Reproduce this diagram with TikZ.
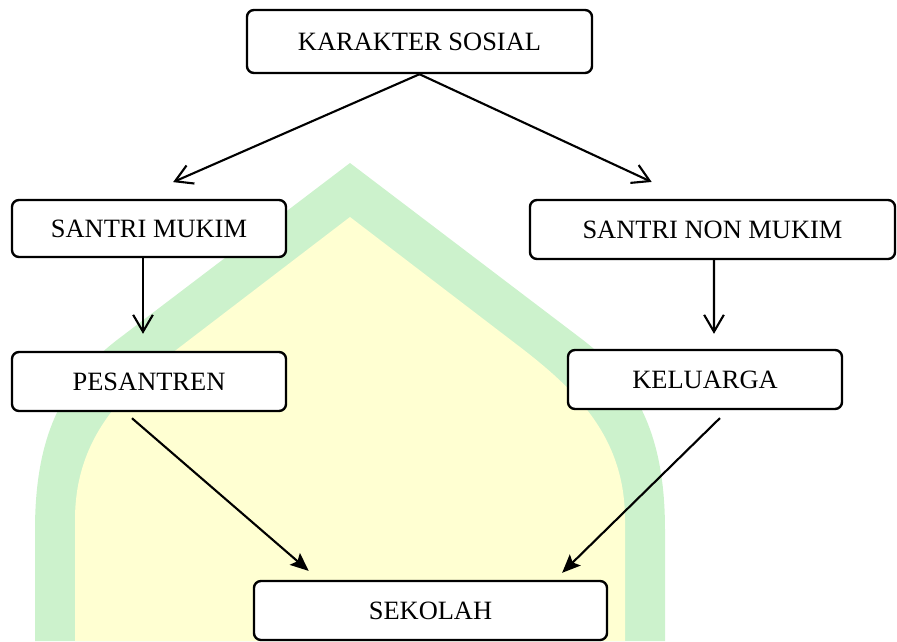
\documentclass[tikz,border=0pt]{standalone}
\usepackage{fontspec}
\setmainfont{Liberation Serif}
\usetikzlibrary{arrows.meta,calc}

\definecolor{wmgreen}{HTML}{CCF2CC}
\definecolor{wmyellow}{HTML}{FFFFD2}

\tikzset{
    box/.style={draw, line width=1.7pt, rounded corners=5pt, fill=white, inner sep=0pt,
        font=\fontsize{18.8}{22}\selectfont},
    openarrow/.style={-{Straight Barb[length=12pt,width=14pt]}, line width=1.5pt},
    solidarrow/.style={-{Stealth[length=13pt,width=11pt,inset=2.5pt]}, line width=1.5pt},
}

\begin{document}
\begin{tikzpicture}[x=0.025cm, y=-0.025cm]
        \useasboundingbox (0,0) rectangle (897,641);

        % watermark in the background
        \fill[wmgreen] (350,163) -- (583,340) .. controls (640,384) and (665,440) .. (665,530)
            -- (665,641) -- (35,641) -- (35,530) .. controls (35,440) and (60,384) .. (117,340) -- cycle;
        \fill[wmyellow] (350,217) -- (520,347) .. controls (580,393) and (625,440) .. (625,520)
            -- (625,641) -- (75,641) -- (75,520) .. controls (75,440) and (120,393) .. (180,347) -- cycle;

        \node[box, minimum width=8.625cm, minimum height=1.575cm] (karakter) at (419.5,41.5) {KARAKTER SOSIAL};
        \node[box, minimum width=6.85cm, minimum height=1.425cm] (mukim) at (149,228.5) {SANTRI MUKIM};
        \node[box, minimum width=9.125cm, minimum height=1.475cm] (nonmukim) at (712.5,229.5) {SANTRI NON MUKIM};
        \node[box, minimum width=6.85cm, minimum height=1.475cm] (pesantren) at (149,381.5) {PESANTREN};
        \node[box, minimum width=6.85cm, minimum height=1.475cm] (keluarga) at (705,379.5) {KELUARGA};
        \node[box, minimum width=8.825cm, minimum height=1.475cm] (sekolah) at (430.5,610.5) {SEKOLAH};

        \draw[openarrow, shorten >=1.04cm] (karakter.south) -- ($(mukim.north)+(-14,0)$);
        \draw[openarrow, shorten >=1.0cm] (karakter.south) -- ($(nonmukim.north)+(-24.5,0)$);

        \draw[openarrow, shorten >=0.425cm] ($(mukim.south)+(-6,0)$) -- ($(pesantren.north)+(-6,0)$);
        \draw[openarrow, shorten >=0.375cm] ($(nonmukim.south)+(1.5,0)$) -- ($(keluarga.north)+(9,0)$);

        \draw[solidarrow, shorten <=0.23cm, shorten >=0.34cm] ($(pesantren.south)+(-24,0)$) -- ($(sekolah.north)+(-111.5,0)$);
        \draw[solidarrow, shorten <=0.28cm, shorten >=0.25cm] ($(keluarga.south)+(23,0)$) -- ($(sekolah.north)+(124.5,0)$);
    \end{tikzpicture}
\end{document}
